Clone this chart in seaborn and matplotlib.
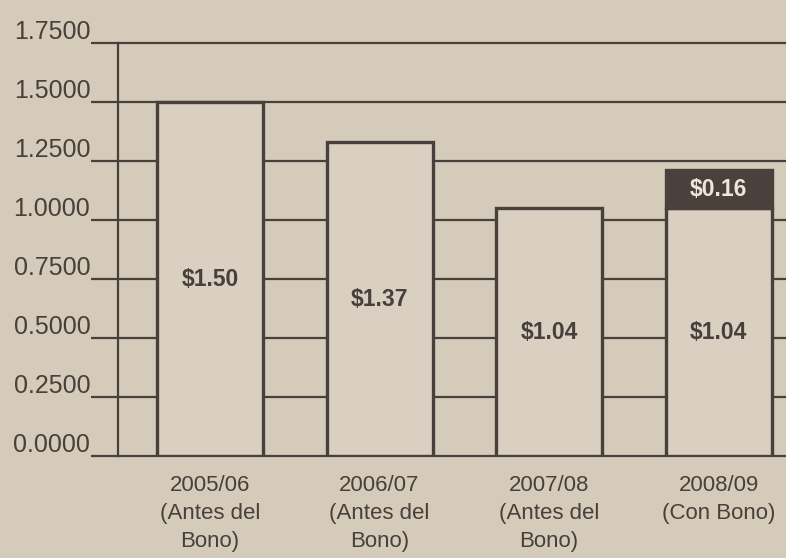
import matplotlib
matplotlib.use("Agg")
import matplotlib.pyplot as plt
from matplotlib.transforms import ScaledTranslation
import seaborn as sns
import pandas as pd

# values
years = ["2005/06", "2006/07", "2007/08", "2008/09"]
periods = ["(Antes del\nBono)", "(Antes del\nBono)", "(Antes del\nBono)", "(Con Bono)"]
base_heights = [1.50, 1.33, 1.05, 1.05]
base_labels = ["$1.50", "$1.37", "$1.04", "$1.04"]
bonus_heights = [0.0, 0.0, 0.0, 0.16]
bonus_labels = ["", "", "", "$0.16"]
y_ticks = [0.0, 0.25, 0.5, 0.75, 1.0, 1.25, 1.5, 1.75]

paper = "#d5cbba"
bar_fill = "#d9d0c1"
ink = "#47403b"
dark = "#4a413c"

sns.set_style("white")
plt.rcParams["font.family"] = ["Liberation Sans", "DejaVu Sans"]

df = pd.DataFrame({
    "label": [y + "\n" + p for y, p in zip(years, periods)],
    "base": base_heights,
})

fig = plt.figure(figsize=(7.86, 5.58), dpi=100, facecolor=paper)
ax = fig.add_axes([118 / 786, 1 - 456 / 558, 1 - 118 / 786, (456 - 43) / 558])
ax.set_facecolor(paper)

bw = 0.625
sns.barplot(data=df, x="label", y="base", color=bar_fill, saturation=1,
            edgecolor=ink, linewidth=2.4, width=bw, ax=ax, zorder=3)
for p in ax.patches:
    p.set_facecolor(bar_fill)

ax.bar_label(ax.containers[0], labels=base_labels, label_type="center",
             fontsize=16.5, fontweight="bold", color=ink)

# bonus segment stacked on the last bar
xs = [i for i, h in enumerate(bonus_heights) if h > 0]
top = ax.bar(xs, [bonus_heights[i] for i in xs], bottom=[base_heights[i] for i in xs],
             width=bw, color=dark, edgecolor=dark, linewidth=2.4, zorder=3)
ax.bar_label(top, labels=[bonus_labels[i] for i in xs], label_type="center",
             fontsize=16.5, fontweight="bold", color="#ede6da")

ax.set_ylim(0, 1.75)
ax.set_xlim(-0.543, 3.398)
ax.set_yticks(y_ticks)
ax.set_yticklabels([f"{v:.4f}" for v in y_ticks])
ax.set_xlabel("")
ax.set_ylabel("")

ax.set_axisbelow(True)
ax.yaxis.grid(True, color=ink, linewidth=1.6)
ax.xaxis.grid(False)
for gl in ax.get_ygridlines():
    gl.set_clip_on(False)
for side in ["top", "right", "bottom"]:
    ax.spines[side].set_visible(False)
ax.spines["left"].set_color(ink)
ax.spines["left"].set_linewidth(1.6)

ax.tick_params(axis="y", left=True, length=19.4, width=1.6, color=ink, pad=0.5,
               labelsize=18, labelcolor=ink)
ax.tick_params(axis="x", bottom=False, length=0, pad=14, labelsize=16,
               labelcolor=ink)
for lbl in ax.get_xticklabels():
    lbl.set_linespacing(1.42)
shift = ScaledTranslation(0, 3 / 72, fig.dpi_scale_trans)
for lbl in ax.get_yticklabels():
    lbl.set_verticalalignment("baseline")
    lbl.set_transform(lbl.get_transform() + shift)

fig.savefig("out.png", dpi=100, facecolor=paper)
